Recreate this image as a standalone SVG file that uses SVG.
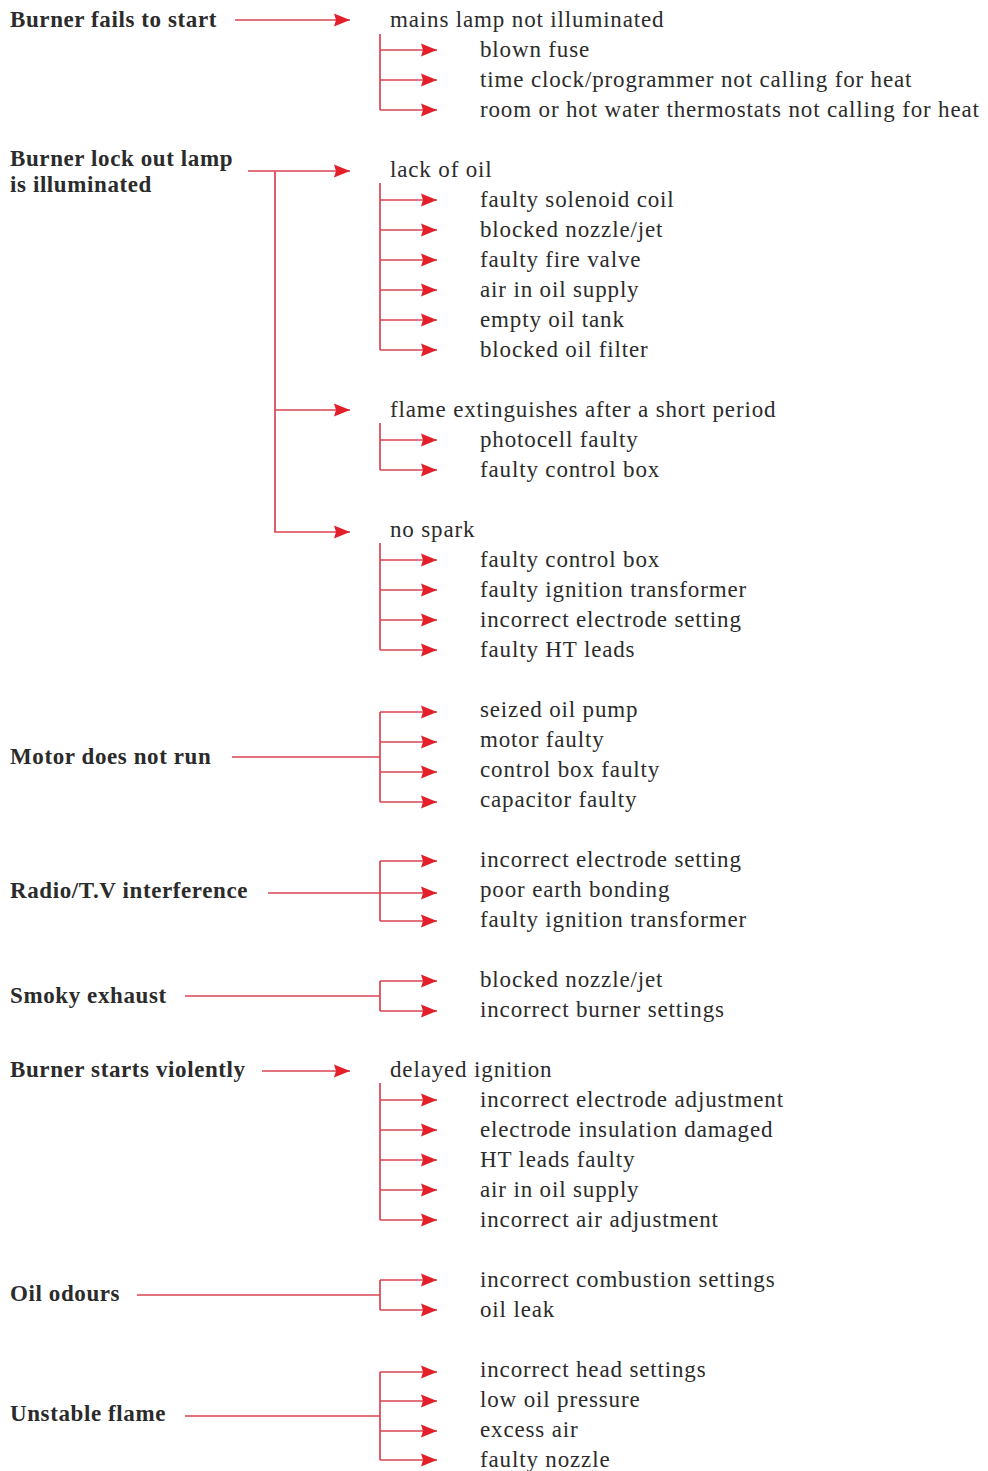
<svg xmlns="http://www.w3.org/2000/svg" width="988" height="1471" viewBox="0 0 988 1471">
<style>
.lbl{font-family:"Liberation Serif","Times New Roman",serif;font-weight:bold;font-size:23px;letter-spacing:0.6px;fill:#2b2b2b}
.t{font-family:"Liberation Serif","Times New Roman",serif;font-size:23px;letter-spacing:0.85px;fill:#2b2b2b}
.c{stroke:#d9434f;stroke-width:1.7;fill:none}
.a{marker-end:url(#ah)}
</style>
<defs>
<marker id="ah" markerUnits="userSpaceOnUse" markerWidth="17" markerHeight="16" refX="16" refY="8" orient="auto" viewBox="0 0 17 16">
<path d="M0,1.5 L16,8 L0,14.5 L2,8 z" fill="#e3202a"/>
</marker>
</defs>
<rect width="988" height="1471" fill="#ffffff"/>

<g id="connectors">
<!-- Burner fails to start -->
<line class="c a" x1="235" y1="20" x2="350" y2="20"/>
<polyline class="c" points="380,34 380,110"/>
<line class="c a" x1="380" y1="50" x2="437" y2="50"/>
<line class="c a" x1="380" y1="80" x2="437" y2="80"/>
<line class="c a" x1="380" y1="110" x2="437" y2="110"/>
<!-- lock out -->
<line class="c a" x1="248" y1="171" x2="350" y2="171"/>
<polyline class="c a" points="275,171 275,532 350,532"/>
<line class="c a" x1="275" y1="410" x2="350" y2="410"/>
<polyline class="c" points="380,183 380,350"/>
<line class="c a" x1="380" y1="200" x2="437" y2="200"/>
<line class="c a" x1="380" y1="230" x2="437" y2="230"/>
<line class="c a" x1="380" y1="260" x2="437" y2="260"/>
<line class="c a" x1="380" y1="290" x2="437" y2="290"/>
<line class="c a" x1="380" y1="320" x2="437" y2="320"/>
<line class="c a" x1="380" y1="350" x2="437" y2="350"/>
<polyline class="c" points="380,423 380,470"/>
<line class="c a" x1="380" y1="440" x2="437" y2="440"/>
<line class="c a" x1="380" y1="470" x2="437" y2="470"/>
<polyline class="c" points="380,543 380,650"/>
<line class="c a" x1="380" y1="560" x2="437" y2="560"/>
<line class="c a" x1="380" y1="590" x2="437" y2="590"/>
<line class="c a" x1="380" y1="620" x2="437" y2="620"/>
<line class="c a" x1="380" y1="650" x2="437" y2="650"/>
<!-- motor -->
<line class="c" x1="232" y1="757" x2="380" y2="757"/>
<polyline class="c" points="380,712 380,802"/>
<line class="c a" x1="380" y1="712" x2="437" y2="712"/>
<line class="c a" x1="380" y1="742" x2="437" y2="742"/>
<line class="c a" x1="380" y1="772" x2="437" y2="772"/>
<line class="c a" x1="380" y1="802" x2="437" y2="802"/>
<!-- radio -->
<line class="c" x1="268" y1="893" x2="380" y2="893"/>
<polyline class="c" points="380,861 380,921"/>
<line class="c a" x1="380" y1="861" x2="437" y2="861"/>
<line class="c a" x1="380" y1="893" x2="437" y2="893"/>
<line class="c a" x1="380" y1="921" x2="437" y2="921"/>
<!-- smoky -->
<line class="c" x1="185" y1="996" x2="380" y2="996"/>
<polyline class="c" points="380,981 380,1011"/>
<line class="c a" x1="380" y1="981" x2="437" y2="981"/>
<line class="c a" x1="380" y1="1011" x2="437" y2="1011"/>
<!-- starts violently -->
<line class="c a" x1="262" y1="1071" x2="350" y2="1071"/>
<polyline class="c" points="380,1083 380,1220"/>
<line class="c a" x1="380" y1="1100" x2="437" y2="1100"/>
<line class="c a" x1="380" y1="1130" x2="437" y2="1130"/>
<line class="c a" x1="380" y1="1160" x2="437" y2="1160"/>
<line class="c a" x1="380" y1="1190" x2="437" y2="1190"/>
<line class="c a" x1="380" y1="1220" x2="437" y2="1220"/>
<!-- oil odours -->
<line class="c" x1="137" y1="1295" x2="380" y2="1295"/>
<polyline class="c" points="380,1280 380,1310"/>
<line class="c a" x1="380" y1="1280" x2="437" y2="1280"/>
<line class="c a" x1="380" y1="1310" x2="437" y2="1310"/>
<!-- unstable -->
<line class="c" x1="185" y1="1416" x2="380" y2="1416"/>
<polyline class="c" points="380,1372 380,1460"/>
<line class="c a" x1="380" y1="1372" x2="437" y2="1372"/>
<line class="c a" x1="380" y1="1401" x2="437" y2="1401"/>
<line class="c a" x1="380" y1="1431" x2="437" y2="1431"/>
<line class="c a" x1="380" y1="1460" x2="437" y2="1460"/>
</g>

<g id="n-burner-fails"><text class="lbl" x="10" y="27">Burner fails to start</text></g>
<g id="n-mains"><text class="t" x="390" y="27">mains lamp not illuminated</text>
<text class="t" x="480" y="57">blown fuse</text>
<text class="t" x="480" y="87">time clock/programmer not calling for heat</text>
<text class="t" x="480" y="117">room or hot water thermostats not calling for heat</text></g>

<g id="n-lockout"><text class="lbl" x="10" y="166">Burner lock out lamp</text><text class="lbl" x="10" y="192">is illuminated</text></g>
<g id="n-lack"><text class="t" x="390" y="177">lack of oil</text>
<text class="t" x="480" y="207">faulty solenoid coil</text>
<text class="t" x="480" y="237">blocked nozzle/jet</text>
<text class="t" x="480" y="267">faulty fire valve</text>
<text class="t" x="480" y="297">air in oil supply</text>
<text class="t" x="480" y="327">empty oil tank</text>
<text class="t" x="480" y="357">blocked oil filter</text></g>
<g id="n-flame"><text class="t" x="390" y="417">flame extinguishes after a short period</text>
<text class="t" x="480" y="447">photocell faulty</text>
<text class="t" x="480" y="477">faulty control box</text></g>
<g id="n-spark"><text class="t" x="390" y="537">no spark</text>
<text class="t" x="480" y="567">faulty control box</text>
<text class="t" x="480" y="597">faulty ignition transformer</text>
<text class="t" x="480" y="627">incorrect electrode setting</text>
<text class="t" x="480" y="657">faulty HT leads</text></g>

<g id="n-motor"><text class="lbl" x="10" y="764">Motor does not run</text>
<text class="t" x="480" y="717">seized oil pump</text>
<text class="t" x="480" y="747">motor faulty</text>
<text class="t" x="480" y="777">control box faulty</text>
<text class="t" x="480" y="807">capacitor faulty</text></g>

<g id="n-radio"><text class="lbl" x="10" y="898">Radio/T.V interference</text>
<text class="t" x="480" y="867">incorrect electrode setting</text>
<text class="t" x="480" y="897">poor earth bonding</text>
<text class="t" x="480" y="927">faulty ignition transformer</text></g>

<g id="n-smoky"><text class="lbl" x="10" y="1003">Smoky exhaust</text>
<text class="t" x="480" y="987">blocked nozzle/jet</text>
<text class="t" x="480" y="1017">incorrect burner settings</text></g>

<g id="n-violent"><text class="lbl" x="10" y="1077">Burner starts violently</text>
<text class="t" x="390" y="1077">delayed ignition</text>
<text class="t" x="480" y="1107">incorrect electrode adjustment</text>
<text class="t" x="480" y="1137">electrode insulation damaged</text>
<text class="t" x="480" y="1167">HT leads faulty</text>
<text class="t" x="480" y="1197">air in oil supply</text>
<text class="t" x="480" y="1227">incorrect air adjustment</text></g>

<g id="n-odours"><text class="lbl" x="10" y="1301">Oil odours</text>
<text class="t" x="480" y="1287">incorrect combustion settings</text>
<text class="t" x="480" y="1317">oil leak</text></g>

<g id="n-unstable"><text class="lbl" x="10" y="1421">Unstable flame</text>
<text class="t" x="480" y="1377">incorrect head settings</text>
<text class="t" x="480" y="1407">low oil pressure</text>
<text class="t" x="480" y="1437">excess air</text>
<text class="t" x="480" y="1467">faulty nozzle</text></g>
</svg>
